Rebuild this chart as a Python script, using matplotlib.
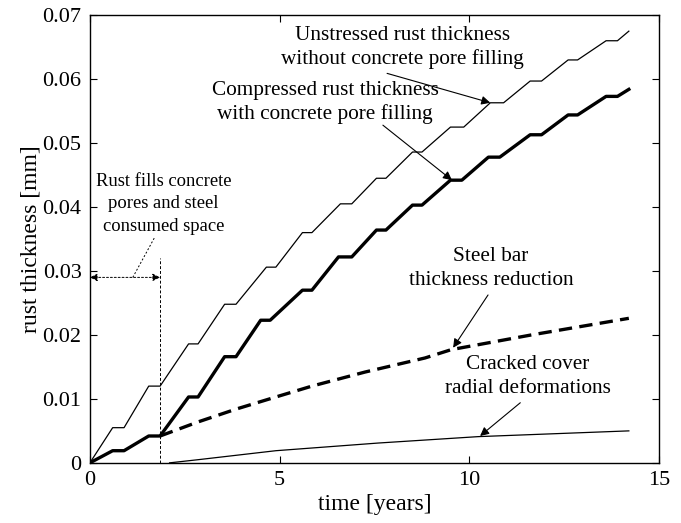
import numpy as np
import matplotlib.pyplot as plt

plt.rcParams['font.family'] = ['Liberation Serif', 'DejaVu Serif']
plt.rcParams['mathtext.fontset'] = 'stix'

# rust without pore filling (corners of the seasonal steps)
t_free = [0, 0.6, 0.9, 1.55, 1.85, 2.6, 2.85, 3.55, 3.85, 4.65, 4.9, 5.6, 5.85,
          6.6, 6.9, 7.55, 7.8, 8.5, 8.75, 9.5, 9.85, 10.55, 10.9, 11.6, 11.9,
          12.6, 12.85, 13.6, 13.9, 14.2]
rust_free = [0, 0.0055, 0.0055, 0.012, 0.012, 0.0186, 0.0186, 0.0248, 0.0248,
             0.0306, 0.0306, 0.036, 0.036, 0.0405, 0.0405, 0.0445, 0.0445,
             0.0486, 0.0486, 0.0525, 0.0525, 0.0563, 0.0563, 0.0597, 0.0597,
             0.063, 0.063, 0.066, 0.066, 0.0675]

# compressed rust with pore filling
t_comp = [0, 0.6, 0.9, 1.55, 1.85, 2.6, 2.85, 3.55, 3.85, 4.5, 4.75, 5.6, 5.85,
          6.55, 6.9, 7.55, 7.8, 8.5, 8.75, 9.5, 9.8, 10.5, 10.8, 11.6, 11.9,
          12.6, 12.85, 13.6, 13.9, 14.2]
rust_comp = [0, 0.0019, 0.0019, 0.0042, 0.0042, 0.0103, 0.0103, 0.0166, 0.0166,
             0.0223, 0.0223, 0.027, 0.027, 0.0322, 0.0322, 0.0364, 0.0364,
             0.0403, 0.0403, 0.0442, 0.0442, 0.0478, 0.0478, 0.0513, 0.0513,
             0.0544, 0.0544, 0.0573, 0.0573, 0.0584]

# steel bar thickness reduction
t_steel = [1.85, 2.85, 3.85, 4.9, 5.85, 7.25, 8.83, 9.52, 11.63, 14.2]
steel_red = [0.0042, 0.0064, 0.0084, 0.0103, 0.012, 0.0142, 0.0164, 0.0177,
             0.02, 0.0226]

# cracked cover radial deformations
t_crack = [2.1, 2.86, 4.9, 7.6, 10.23, 14.2]
crack_def = [0, 0.0005, 0.0019, 0.0031, 0.0041, 0.005]

t_fill = 1.85  # end of pore filling stage

fig = plt.figure(figsize=(6.81, 5.23), dpi=100)
ax = fig.add_axes([0.132, 0.115, 0.836, 0.856])

ax.plot(t_free, rust_free, color='black', lw=0.9)
ax.plot(t_comp, rust_comp, color='black', lw=2.4)
ax.plot(t_steel, steel_red, color='black', lw=2.4, dashes=(4, 2.2))
ax.plot(t_crack, crack_def, color='black', lw=0.9)

ax.plot([t_fill, t_fill], [0, 0.032], color='black', lw=0.7, ls=(0, (3, 2)))
ax.annotate('', xy=(0, 0.029), xytext=(t_fill, 0.029),
            arrowprops=dict(arrowstyle='<|-|>', color='black', lw=0.7,
                            ls=(0, (2, 2)), shrinkA=0, shrinkB=0,
                            mutation_scale=11))
ax.plot([1.13, 1.71], [0.029, 0.0353], color='black', lw=0.7, ls=(0, (2, 2)))
ax.text(1.94, 0.0405, 'Rust fills concrete\npores and steel\nconsumed space',
        ha='center', va='center', fontsize=13.4, linespacing=1.4)

arrow = dict(arrowstyle='-|>', color='black', lw=0.8, shrinkA=0, shrinkB=0,
             mutation_scale=13)
note = dict(ha='center', va='center', fontsize=15.3, linespacing=1.3)

ax.text(8.23, 0.0649, 'Unstressed rust thickness\nwithout concrete pore filling', **note)
ax.annotate('', xy=(10.55, 0.0563), xytext=(7.83, 0.0609), arrowprops=arrow)

ax.text(6.2, 0.0563, 'Compressed rust thickness\nwith concrete pore filling', **note)
ax.annotate('', xy=(9.54, 0.0442), xytext=(7.72, 0.0528), arrowprops=arrow)

ax.text(10.57, 0.0304, 'Steel bar\nthickness reduction', **note)
ax.annotate('', xy=(9.57, 0.018), xytext=(10.49, 0.02625), arrowprops=arrow)

ax.text(11.53, 0.0135, 'Cracked cover\nradial deformations', **note)
ax.annotate('', xy=(10.28, 0.0042), xytext=(11.34, 0.0094), arrowprops=arrow)

ax.set_xlim(0, 15)
ax.set_ylim(0, 0.07)
ax.set_xticks([0, 5, 10, 15])
ax.set_yticks([0, 0.01, 0.02, 0.03, 0.04, 0.05, 0.06, 0.07])
ax.set_yticklabels(['0', '0.01', '0.02', '0.03', '0.04', '0.05', '0.06', '0.07'])
ax.tick_params(direction='in', length=5, width=0.8, labelsize=16,
               top=True, right=True, pad=6)
for s in ax.spines.values():
    s.set_linewidth(1.0)
ax.set_xlabel('time [years]', fontsize=17, labelpad=3)
ax.set_ylabel('rust thickness [mm]', fontsize=17, labelpad=1)

fig.savefig('out.png', dpi=100)
